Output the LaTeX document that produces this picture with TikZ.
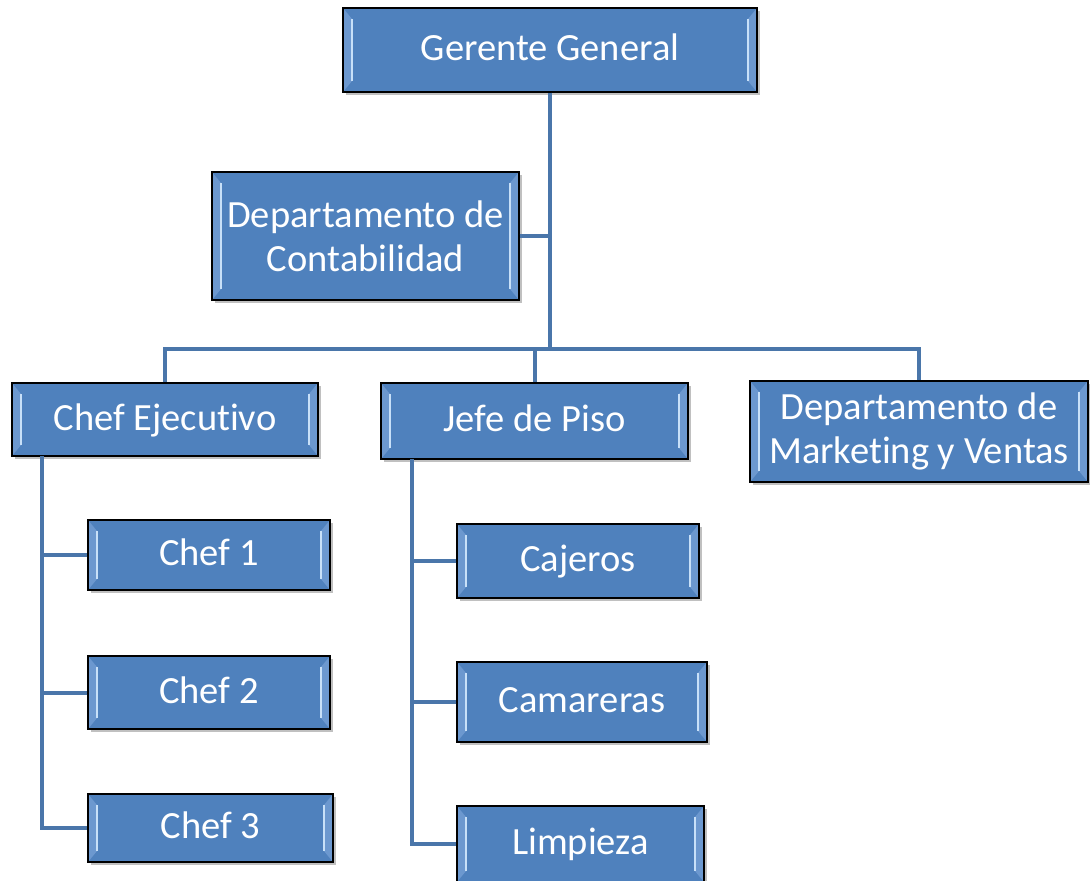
\documentclass[tikz,border=0pt]{standalone}
\usepackage{fontspec}
\setmainfont{Carlito}[Ligatures=NoCommon]
\usetikzlibrary{shadows,calc}
\definecolor{boxblue}{RGB}{79,129,189}
\definecolor{bevelblue}{RGB}{108,152,207}
\definecolor{bevelline}{RGB}{200,224,248}
\definecolor{linkblue}{RGB}{74,118,170}
\tikzset{
  orgbox/.style={draw=black, line width=1.4pt, fill=boxblue, text=white,
    inner sep=0pt, align=center,
    font=\fontsize{38.5}{44}\selectfont,
    drop shadow={shadow xshift=2.5pt, shadow yshift=-3pt, opacity=0.35, fill=black!70},
    path picture={
      \fill[bevelblue] (path picture bounding box.south west) -- ([xshift=9pt,yshift=11pt]path picture bounding box.south west) -- ([xshift=9pt,yshift=-11pt]path picture bounding box.north west) -- (path picture bounding box.north west) -- cycle;
      \fill[bevelblue] (path picture bounding box.south east) -- ([xshift=-9pt,yshift=11pt]path picture bounding box.south east) -- ([xshift=-9pt,yshift=-11pt]path picture bounding box.north east) -- (path picture bounding box.north east) -- cycle;
      \draw[bevelline, line width=1.8pt] ([xshift=9pt,yshift=11pt]path picture bounding box.south west) -- ([xshift=9pt,yshift=-11pt]path picture bounding box.north west);
      \draw[bevelline, line width=1.8pt] ([xshift=-9pt,yshift=11pt]path picture bounding box.south east) -- ([xshift=-9pt,yshift=-11pt]path picture bounding box.north east);
    }},
  oneline/.style={text height=26pt, text depth=5pt},
  link/.style={draw=linkblue, line width=4pt}
}
\begin{document}
\begin{tikzpicture}[x=1pt,y=-1pt]
\path[use as bounding box, clip] (0,0) rectangle (1090,881);
\fill[white] (0,0) rectangle (1090,881);
% nodes
\node[orgbox, oneline, minimum width=414pt, minimum height=84pt] (gg) at (550,50) {Gerente General};
\node[orgbox, minimum width=307pt, minimum height=128pt] (cont) at (365.5,236) {Departamento de\\Contabilidad};
\node[orgbox, oneline, minimum width=306pt, minimum height=73pt] (chefe) at (165,419.5) {Chef Ejecutivo};
\node[orgbox, oneline, minimum width=307pt, minimum height=76pt] (jefe) at (534.5,421) {Jefe de Piso};
\node[orgbox, minimum width=338pt, minimum height=101pt] (mkt) at (919,431.5) {Departamento de\\Marketing y Ventas};
\node[orgbox, oneline, minimum width=242pt, minimum height=70pt] (chef1) at (209,555) {Chef 1};
\node[orgbox, oneline, minimum width=242pt, minimum height=73pt] (chef2) at (209,692.5) {Chef 2};
\node[orgbox, oneline, minimum width=245pt, minimum height=68pt] (chef3) at (210.5,828) {Chef 3};
\node[orgbox, oneline, minimum width=242pt, minimum height=74pt] (caj) at (578,561) {Cajeros};
\node[orgbox, oneline, minimum width=250pt, minimum height=80pt] (cam) at (582,702) {Camareras};
\node[orgbox, oneline, minimum width=247pt, minimum height=76pt] (lim) at (580.5,844) {Limpieza};
% junction coordinates
\coordinate (bus) at (550,349);
\coordinate (cetop) at (42,456);
\coordinate (jtop) at (412,459);
% connectors
\draw[link] (gg.south) -- (bus);
\draw[link] (cont.east) -- (cont.east -| bus);
\draw[link] (chefe.north) |- (bus) -| (mkt.north);
\draw[link] (jefe.north) -- (jefe.north |- bus);
\draw[link] (cetop) |- (chef3.west);
\draw[link] (chef1.west) -- (chef1.west -| cetop);
\draw[link] (chef2.west) -- (chef2.west -| cetop);
\draw[link] (jtop) |- (lim.west);
\draw[link] (caj.west) -- (caj.west -| jtop);
\draw[link] (cam.west) -- (cam.west -| jtop);
\end{tikzpicture}
\end{document}
